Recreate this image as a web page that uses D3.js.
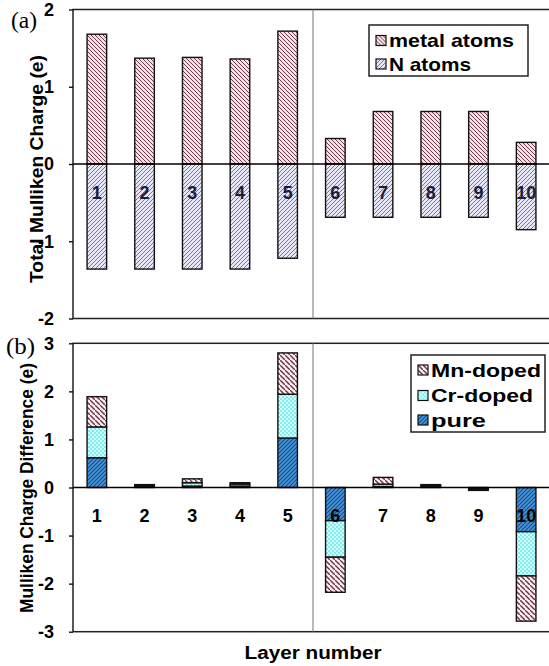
<!DOCTYPE html>
<html>
<head>
<meta charset="utf-8">
<script src="https://cdn.jsdelivr.net/npm/d3@7"></script>
<style>
body{margin:0;background:#fff;}
svg{display:block;font-family:Arial,"Liberation Sans",sans-serif;}
.axis text{font-weight:bold;font-size:18px;fill:#000;}
.axis path{stroke:none;}
.axis line{stroke:#000;stroke-width:1.3px;}
</style>
</head>
<body>
<div id="canvas"></div>
<script>
// data
var layers = ['1','2','3','4','5','6','7','8','9','10'];
var metalAtoms = [1.68, 1.37, 1.38, 1.36, 1.72, 0.33, 0.68, 0.68, 0.68, 0.28];
var nAtoms = [-1.36, -1.36, -1.36, -1.36, -1.22, -0.69, -0.69, -0.69, -0.69, -0.85];
var pure = [0.62, 0.02, 0.03, 0.03, 1.03, -0.69, 0.02, 0.01, -0.02, -0.92];
var crDoped = [0.64, 0.02, 0.07, 0.04, 0.91, -0.76, 0.05, 0.03, -0.02, -0.92];
var mnDoped = [0.63, 0.02, 0.08, 0.03, 0.86, -0.73, 0.14, 0.02, -0.02, -0.94];
var chargeTicks = [-2, -1, 0, 1, 2];
var diffTicks = [-3, -2, -1, 0, 1, 2, 3];
var topLegend = ['metal atoms', 'N atoms'];
var botLegend = ['Mn-doped', 'Cr-doped', 'pure'];

var W = 549, H = 666;
var left = 73, right = 550;

var svg = d3.select('#canvas')
    .append('svg')
    .attr('width', W)
    .attr('height', H);

//Patterns
var defs = svg.append('defs');
function hatch(id, bg, stroke, size, sw, dir){
    var p = defs.append('pattern')
        .attr('id', id)
        .attr('patternUnits', 'userSpaceOnUse')
        .attr('width', size).attr('height', size);
    p.append('rect').attr('width', size).attr('height', size).attr('fill', bg);
    var s = size;
    var d = dir == 'back'
        ? 'M-1,-1 l2,2 M0,0 l' + s + ',' + s + ' M' + (s-1) + ',' + (s-1) + ' l2,2'
        : 'M-1,1 l2,-2 M0,' + s + ' l' + s + ',-' + s + ' M' + (s-1) + ',' + (s+1) + ' l2,-2';
    p.append('path').attr('d', d).attr('stroke', stroke).attr('stroke-width', sw);
}
hatch('pMetal', '#f0e2e7', '#6e3343', 4, 0.9, 'back');
hatch('pN', '#e6e6f6', '#7676ae', 4, 1, 'fwd');
hatch('pPure', '#4597da', '#1a4c8a', 4, 1.2, 'fwd');
hatch('pMn', '#f8eef1', '#6e3343', 5, 1.4, 'back');
var cr = defs.append('pattern')
    .attr('id', 'pCr')
    .attr('patternUnits', 'userSpaceOnUse')
    .attr('width', 4).attr('height', 4);
cr.append('rect').attr('width', 4).attr('height', 4).attr('fill', '#7eeff0');
cr.append('rect').attr('width', 2).attr('height', 2).attr('fill', '#d6ffff');
cr.append('rect').attr('x', 2).attr('y', 2).attr('width', 2).attr('height', 2).attr('fill', '#d6ffff');

//Titles (drawn first so tick labels sit on top)
svg.append('text')
    .attr('transform', 'translate(43,169) rotate(-90)')
    .attr('text-anchor', 'middle')
    .attr('textLength', 228).attr('lengthAdjust', 'spacingAndGlyphs')
    .style('font-weight', 'bold').style('font-size', '18px')
    .text('Total Mulliken Charge (e)');
svg.append('text')
    .attr('transform', 'translate(33,488) rotate(-90)')
    .attr('text-anchor', 'middle')
    .attr('textLength', 250).attr('lengthAdjust', 'spacingAndGlyphs')
    .style('font-weight', 'bold').style('font-size', '18px')
    .text('Mulliken Charge Difference (e)');
svg.append('text')
    .attr('x', 313).attr('y', 659)
    .attr('text-anchor', 'middle')
    .attr('textLength', 137).attr('lengthAdjust', 'spacingAndGlyphs')
    .style('font-weight', 'bold').style('font-size', '18px')
    .text('Layer number');
svg.append('text')
    .attr('x', 11).attr('y', 28)
    .attr('textLength', 26).attr('lengthAdjust', 'spacingAndGlyphs')
    .style('font-family', '"Liberation Serif","Times New Roman",serif').style('font-size', '24px')
    .text('(a)');
svg.append('text')
    .attr('x', 6).attr('y', 354)
    .attr('textLength', 29).attr('lengthAdjust', 'spacingAndGlyphs')
    .style('font-family', '"Liberation Serif","Times New Roman",serif').style('font-size', '24px')
    .text('(b)');

//Scales
var scaleX = d3.scaleBand()
    .domain(layers)
    .range([left, right])
    .paddingInner(0.59)
    .paddingOuter(0.295);
var scaleYTop = d3.scaleLinear().domain([-2, 2]).range([318.5, 9.5]);
var scaleYBot = d3.scaleLinear().domain([-3, 3]).range([631.7, 343.3]);

var sepX = (scaleX('5') + scaleX.bandwidth() + scaleX('6')) / 2 + 1.5;

function panel(scaleY, ticks){
    var g = svg.append('g');
    //frame
    g.append('rect')
        .attr('x', left).attr('y', scaleY.range()[1])
        .attr('width', right - left).attr('height', scaleY.range()[0] - scaleY.range()[1])
        .style('fill', 'none').style('stroke', '#222').style('stroke-width', '1.5px');
    //separator
    g.append('line')
        .attr('x1', sepX).attr('x2', sepX)
        .attr('y1', scaleY.range()[1]).attr('y2', scaleY.range()[0])
        .style('stroke', '#777').style('stroke-width', '1px');
    //axis
    g.append('g').attr('class', 'axis axis-y')
        .attr('transform', 'translate(' + left + ',0)')
        .call(d3.axisLeft(scaleY).tickValues(ticks).tickSize(4).tickPadding(15)
            .tickFormat(function(d){ return String(d); }));
    return g;
}

//(a) total Mulliken charge
var gA = panel(scaleYTop, chargeTicks);
var topRows = layers.map(function(l, i){ return {layer: l, metal: metalAtoms[i], n: nAtoms[i]}; });

gA.selectAll('.metal')
    .data(topRows)
    .enter().append('rect')
    .attr('class', 'metal')
    .attr('x', function(d){ return scaleX(d.layer); })
    .attr('width', scaleX.bandwidth())
    .attr('y', function(d){ return scaleYTop(d.metal); })
    .attr('height', function(d){ return scaleYTop(0) - scaleYTop(d.metal); })
    .style('fill', 'url(#pMetal)').style('stroke', '#111').style('stroke-width', '1.4px');
gA.selectAll('.natom')
    .data(topRows)
    .enter().append('rect')
    .attr('class', 'natom')
    .attr('x', function(d){ return scaleX(d.layer); })
    .attr('width', scaleX.bandwidth())
    .attr('y', scaleYTop(0))
    .attr('height', function(d){ return scaleYTop(d.n) - scaleYTop(0); })
    .style('fill', 'url(#pN)').style('stroke', '#111').style('stroke-width', '1.4px');

gA.append('line')
    .attr('x1', left).attr('x2', right)
    .attr('y1', scaleYTop(0)).attr('y2', scaleYTop(0))
    .style('stroke', '#000').style('stroke-width', '1.5px');

gA.append('g').attr('class', 'axis axis-x')
    .attr('transform', 'translate(0,' + scaleYTop(0) + ')')
    .call(d3.axisBottom(scaleX).tickSize(0).tickPadding(22))
    .selectAll('text').style('fill', '#1c1c3a');

//(b) charge difference, stacked
var gB = panel(scaleYBot, diffTicks);
var botRows = layers.map(function(l, i){ return {layer: l, pure: pure[i], cr: crDoped[i], mn: mnDoped[i]}; });
var stack = d3.stack()
    .keys(['pure', 'cr', 'mn'])
    .offset(d3.stackOffsetDiverging);
var fills = {pure: 'url(#pPure)', cr: 'url(#pCr)', mn: 'url(#pMn)'};

gB.selectAll('.series')
    .data(stack(botRows))
    .enter().append('g')
    .attr('class', 'series')
    .style('fill', function(s){ return fills[s.key]; })
    .selectAll('rect')
    .data(function(s){ return s; })
    .enter().append('rect')
    .attr('x', function(d){ return scaleX(d.data.layer); })
    .attr('width', scaleX.bandwidth())
    .attr('y', function(d){ return scaleYBot(Math.max(d[0], d[1])); })
    .attr('height', function(d){ return Math.abs(scaleYBot(d[0]) - scaleYBot(d[1])); })
    .style('stroke', '#111').style('stroke-width', '1.4px');

gB.append('line')
    .attr('x1', left).attr('x2', right)
    .attr('y1', scaleYBot(0)).attr('y2', scaleYBot(0))
    .style('stroke', '#000').style('stroke-width', '1.5px');

gB.append('g').attr('class', 'axis axis-x')
    .attr('transform', 'translate(0,' + scaleYBot(0) + ')')
    .call(d3.axisBottom(scaleX).tickSize(0).tickPadding(22));

//Legends
function legend(x, y, w, h, names, patterns, rowY, widths){
    var lg = svg.append('g');
    lg.append('rect')
        .attr('x', x).attr('y', y).attr('width', w).attr('height', h)
        .style('fill', '#fff').style('stroke', '#222').style('stroke-width', '1.5px');
    var item = lg.selectAll('.item')
        .data(names)
        .enter().append('g')
        .attr('transform', function(d, i){ return 'translate(' + (x + 7) + ',' + rowY[i] + ')'; });
    item.append('rect')
        .attr('x', 0).attr('y', -5).attr('width', 10).attr('height', 10)
        .style('fill', function(d, i){ return patterns[i]; })
        .style('stroke', '#111').style('stroke-width', '1.2px');
    item.append('text')
        .attr('x', 13).attr('dy', '0.36em')
        .attr('textLength', function(d, i){ return widths[i]; })
        .attr('lengthAdjust', 'spacingAndGlyphs')
        .style('font-weight', 'bold').style('font-size', '19px')
        .text(function(d){ return d; });
    return item;
}
legend(369, 25, 159, 51, topLegend, ['url(#pMetal)', 'url(#pN)'], [40.5, 64], [125, 82]);
legend(411, 355, 134, 77, botLegend, ['url(#pMn)', 'url(#pCr)', 'url(#pPure)'], [370, 395.5, 420], [110, 102, 55]);
</script>
</body>
</html>
